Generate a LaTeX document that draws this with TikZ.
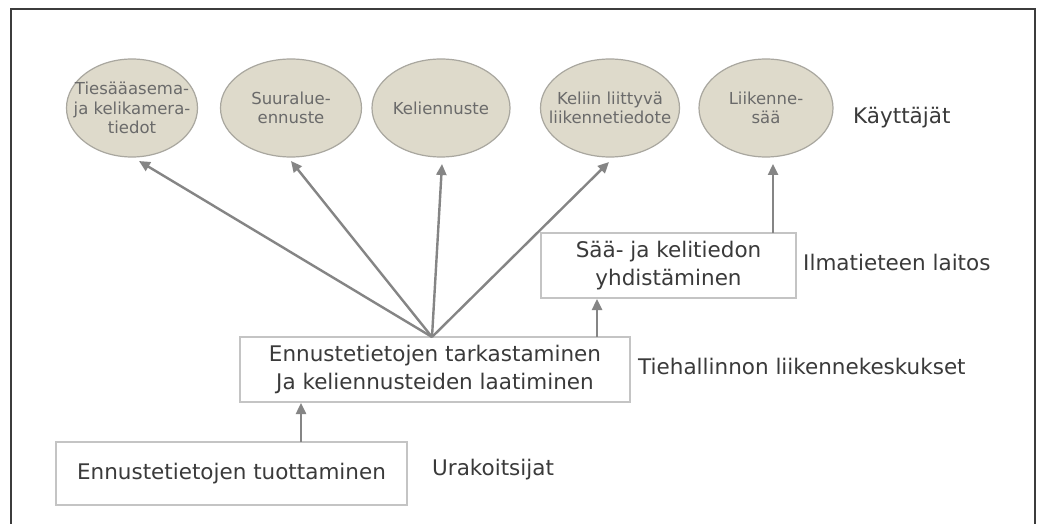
\documentclass[tikz,border=0pt]{standalone}
\usepackage{fontspec}
\setmainfont{DejaVu Sans}
\usetikzlibrary{shapes.geometric,arrows.meta}
\definecolor{arrowgray}{HTML}{858585}
\definecolor{ellfill}{HTML}{DEDACB}
\definecolor{elldraw}{HTML}{A9A79F}
\definecolor{elltext}{HTML}{6A6A6A}
\definecolor{boxdraw}{HTML}{C4C4C4}
\definecolor{boxtext}{HTML}{3A3A3A}
\definecolor{frame}{HTML}{3C3C3C}
\tikzset{
  usernode/.style={ellipse, draw=elldraw, line width=1.2pt, fill=ellfill,
    minimum width=#1, minimum height=98pt, inner sep=0pt},
  usernode/.default=138pt,
  usertext/.style={inner sep=0pt, align=center,
    text=elltext, font=\fontsize{16.5}{19.5}\selectfont},
  procbox/.style={rectangle, draw=boxdraw, line width=1.5pt, fill=white,
    inner sep=0pt, align=center, text=boxtext, font=\fontsize{21.5}{27.5}\selectfont},
  actor/.style={anchor=west, inner sep=0pt, text=boxtext, font=\fontsize{21.5}{26}\selectfont},
  flow/.style={draw=arrowgray, line width=2.4pt,
    -{Triangle[length=11pt,width=10pt]}}
}
\begin{document}
\begin{tikzpicture}[x=1pt,y=-1pt]
\useasboundingbox (0,0) rectangle (1058,524);
\fill[white] (0,0) rectangle (1058,524);
\draw[frame, line width=1.6pt] (11,540) -- (11,9) -- (1035,9) -- (1035,540);

% user ellipses
\node[usernode=131pt] (e1) at (132,108) {};
\node[usertext] (e1t) at (e1.center) {Tiesääasema-\\ja kelikamera-\\tiedot};
\node[usernode=141pt] (e2) at (291,108) {};
\node[usertext] (e2t) at (e2.center) {Suuralue-\\ennuste};
\node[usernode=138pt] (e3) at (441,108) {};
\node[usertext] (e3t) at (e3.center) {Keliennuste};
\node[usernode=139pt] (e4) at (610,108) {};
\node[usertext] (e4t) at (e4.center) {Keliin liittyvä\\liikennetiedote};
\node[usernode=134pt] (e5) at (766,108) {};
\node[usertext] (e5t) at (e5.center) {Liikenne-\\sää};

% process boxes
\node[procbox, minimum width=351pt, minimum height=63pt] (b1) at (231.5,473.5) {Ennustetietojen tuottaminen};
\node[procbox, minimum width=390pt, minimum height=65pt] (b2) at (435,369.5) {Ennustetietojen tarkastaminen\\Ja keliennusteiden laatiminen};
\node[procbox, minimum width=255pt, minimum height=65pt] (b3) at (668.5,265.5) {Sää- ja kelitiedon\\yhdistäminen};

% actor labels
\node[actor] (l1) at (853,118) {Käyttäjät};
\node[actor] (l2) at (803,262) {Ilmatieteen laitos};
\node[actor] (l3) at (638,366) {Tiehallinnon liikennekeskukset};
\node[actor] (l4) at (432,470) {Urakoitsijat};

% connector endpoints
\coordinate (s) at (432,337);
\coordinate (t1) at (139,161);
\coordinate (t2) at (291,161);
\coordinate (t3) at (442,164);
\coordinate (t4) at (609,162);
\coordinate (t5) at (773,164);
\coordinate (s5) at (773,233);
\coordinate (s1) at (301,442);
\coordinate (t6) at (301,403);
\coordinate (s3) at (597,337);
\coordinate (t7) at (597,299);

\draw[flow] (s) -- (t1);
\draw[flow] (s) -- (t2);
\draw[flow] (s) -- (t3);
\draw[flow] (s) -- (t4);
\draw[flow] (s5) -- (t5);
\draw[flow] (s1) -- (t6);
\draw[flow] (s3) -- (t7);
\end{tikzpicture}
\end{document}
